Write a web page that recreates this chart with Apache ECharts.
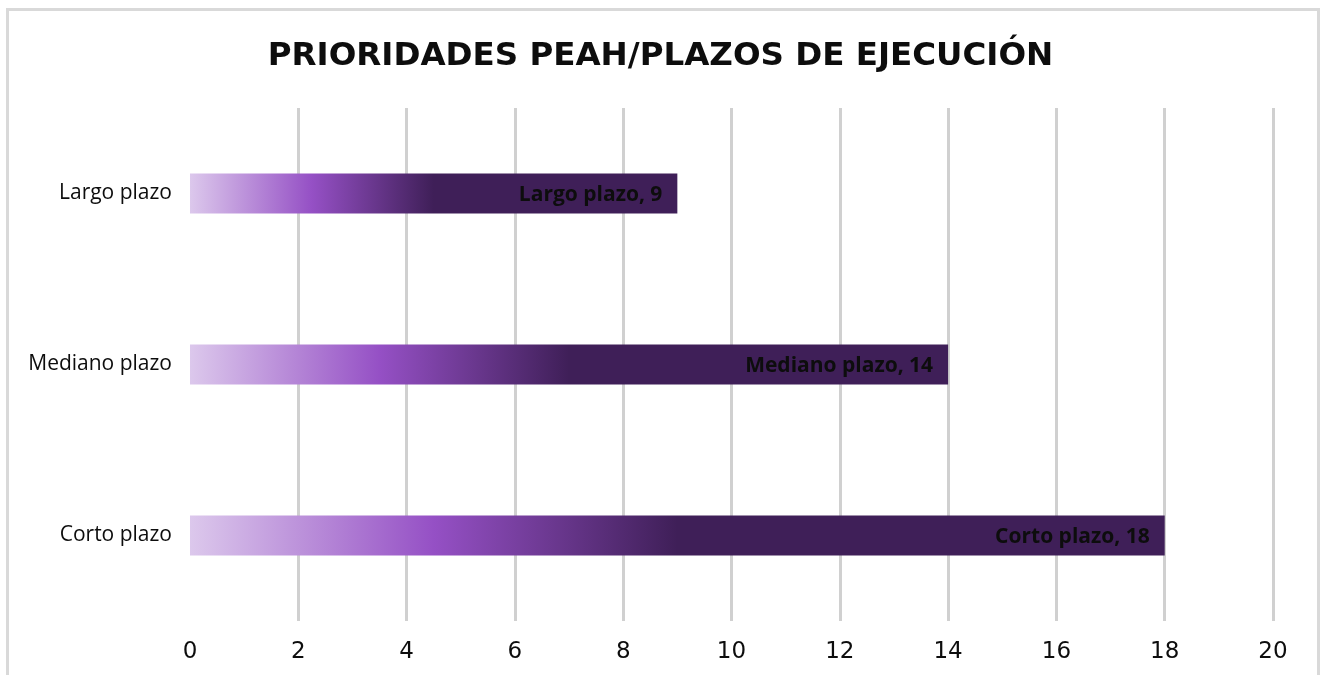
<!DOCTYPE html>
<html><head><meta charset="utf-8">
<script src="https://cdn.jsdelivr.net/npm/echarts@6/dist/echarts.min.js"></script>
<style>html,body{margin:0;padding:0;background:#fff}#c{width:1321px;height:675px}</style>
</head><body><div id="c"></div>
<script>
const titleText = 'PRIORIDADES PEAH/PLAZOS DE EJECUCIÓN';
const categories = ['Corto plazo', 'Mediano plazo', 'Largo plazo'];
const values = [18, 14, 9];
const xTicks = [0, 2, 4, 6, 8, 10, 12, 14, 16, 18, 20];

const chart = echarts.init(document.getElementById('c'), null, {renderer: 'canvas'});
const grad = new echarts.graphic.LinearGradient(0, 0, 1, 0, [
  {offset: 0, color: '#dcc8ec'},
  {offset: 0.25, color: '#9550c5'},
  {offset: 0.5, color: '#3f1f58'},
  {offset: 1, color: '#3f1f58'}
]);
const gridColors = xTicks.map((v, i) => i === 0 ? 'rgba(0,0,0,0)' : '#d0d0d0');
chart.setOption({
  animation: false,
  title: {
    text: titleText, left: 'center', top: 35,
    textStyle: {fontFamily: 'DejaVu Sans', fontWeight: 'bold', fontSize: 32.5, color: '#0d0d0d'}
  },
  graphic: [{
    type: 'rect', shape: {x: 7.5, y: 9.5, width: 1311, height: 700},
    style: {fill: 'none', stroke: '#d9d9d9', lineWidth: 3}, silent: true
  }],
  grid: {left: 190, right: 48, top: 108, bottom: 54, containLabel: false},
  xAxis: {
    type: 'value', min: 0, max: 20, interval: 2,
    axisLine: {show: false}, axisTick: {show: false},
    splitLine: {show: true, lineStyle: {color: gridColors, width: 3}},
    axisLabel: {
      margin: 20, fontFamily: 'DejaVu Sans', fontSize: 23, color: '#0d0d0d',
      formatter: v => xTicks.includes(v) ? String(v) : ''
    }
  },
  yAxis: {
    type: 'category', data: categories,
    axisLine: {show: false}, axisTick: {show: false},
    axisLabel: {margin: 18, fontFamily: 'Open Sans', fontSize: 21, color: '#0d0d0d'}
  },
  series: [{
    type: 'bar', data: values, barWidth: 40,
    itemStyle: {color: grad},
    label: {
      show: true, position: 'insideRight', distance: 15, offset: [0, 2],
      formatter: p => p.name + ', ' + p.value,
      fontFamily: 'Open Sans', fontWeight: 'bold', fontSize: 21, color: '#0d0d0d'
    }
  }]
});
</script></body></html>
